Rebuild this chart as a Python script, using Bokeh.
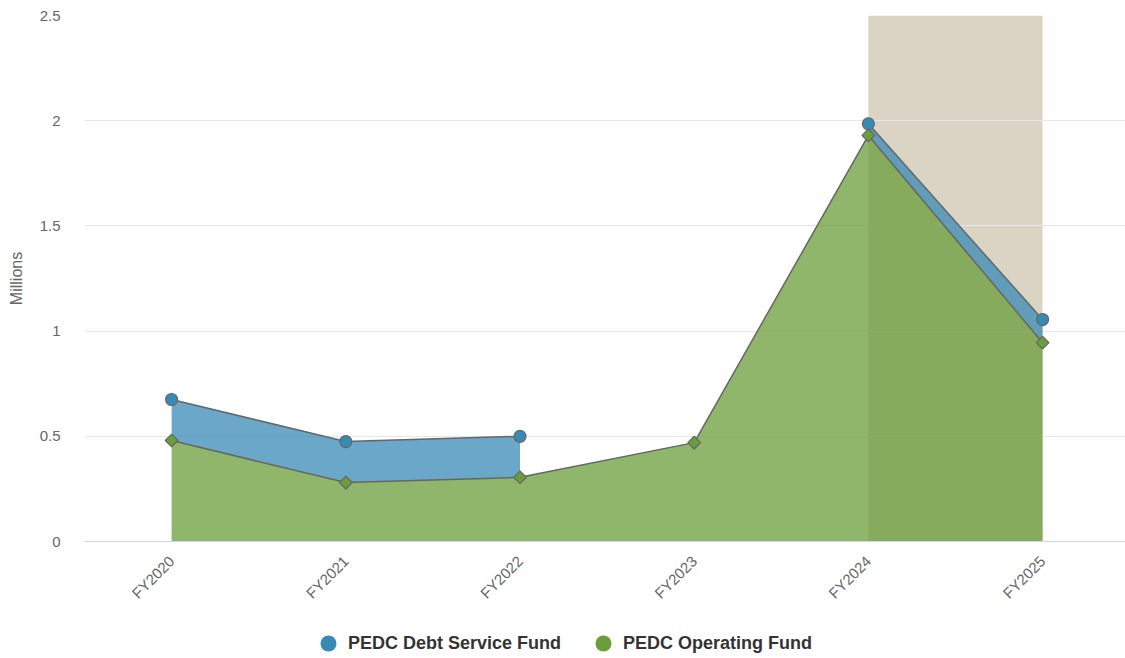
import math
from bokeh.plotting import figure
from bokeh.layouts import column
from bokeh.models import Range1d, FixedTicker, Legend, LegendItem, BoxAnnotation
from bokeh.embed import file_html
from bokeh.resources import INLINE

categories = ["FY2020", "FY2021", "FY2022", "FY2023", "FY2024", "FY2025"]
operating_fund = [0.48, 0.28, 0.305, 0.47, 1.93, 0.945]
debt_service_fund = [0.195, 0.195, 0.195, None, 0.055, 0.11]
band_start, band_end = "FY2024", "FY2025"
y_ticks = [0, 0.5, 1, 1.5, 2, 2.5]
series_names = ["PEDC Debt Service Fund", "PEDC Operating Fund"]

GREEN = "#6a9e3a"
BLUE = "#388ab6"
OUTLINE = "#666666"
FONT = "Liberation Sans"

xs = list(range(len(categories)))

p = figure(width=1125, height=618, output_backend="svg", toolbar_location=None,
           x_range=Range1d(-0.5, len(categories) - 0.524), y_range=Range1d(0, 2.5),
           min_border_left=84, min_border_right=0, min_border_top=15, min_border_bottom=77)
p.outline_line_color = None
p.background_fill_color = "white"

# band
band = BoxAnnotation(left=categories.index(band_start), right=categories.index(band_end),
                     fill_color="#d9d4c4", fill_alpha=1.0, line_alpha=0, level="image")
p.add_layout(band)

# grid
p.xgrid.grid_line_color = None
p.ygrid.grid_line_color = "#e6e6e6"
p.ygrid.grid_line_width = 1
p.ygrid.ticker = FixedTicker(ticks=y_ticks)

# green area
p.varea(x=xs, y1=[0] * len(xs), y2=operating_fund, fill_color=GREEN, fill_alpha=0.75)

# blue area segments (stacked on green)
segments = []
cur = []
for i, d in enumerate(debt_service_fund):
    if d is None:
        if cur:
            segments.append(cur)
        cur = []
    else:
        cur.append(i)
if cur:
    segments.append(cur)

for seg in segments:
    lo = [operating_fund[i] for i in seg]
    hi = [operating_fund[i] + debt_service_fund[i] for i in seg]
    p.varea(x=seg, y1=lo, y2=hi, fill_color=BLUE, fill_alpha=0.75)

# lines
p.line(x=xs, y=operating_fund, line_color=OUTLINE, line_width=1.5)
for seg in segments:
    hi = [operating_fund[i] + debt_service_fund[i] for i in seg]
    p.line(x=seg, y=hi, line_color=OUTLINE, line_width=1.5)

# markers
bx = [i for i in xs if debt_service_fund[i] is not None]
by = [operating_fund[i] + debt_service_fund[i] for i in bx]
p.scatter(x=bx, y=by, marker="circle", size=12, fill_color=BLUE, line_color=OUTLINE, line_width=1.2)
p.scatter(x=xs, y=operating_fund, marker="square", angle=math.pi / 4, size=9,
          fill_color=GREEN, line_color=OUTLINE, line_width=1.2)

# axes
p.xaxis.ticker = FixedTicker(ticks=xs)
p.xaxis.major_label_overrides = {i: c for i, c in enumerate(categories)}
p.xaxis.major_label_orientation = math.pi / 4
p.xaxis.axis_line_color = "#ccd6eb"
p.xaxis.major_tick_line_color = None
p.xaxis.minor_tick_line_color = None
p.xaxis.major_tick_out = 0
p.xaxis.major_tick_in = 0
p.xaxis.major_label_text_font = FONT
p.xaxis.major_label_text_font_size = "15px"
p.xaxis.major_label_text_color = "#666666"
p.xaxis.major_label_standoff = 17

p.yaxis.ticker = FixedTicker(ticks=y_ticks)
p.yaxis.major_label_overrides = {0: "0", 0.5: "0.5", 1: "1", 1.5: "1.5", 2: "2", 2.5: "2.5"}
p.yaxis.axis_line_color = None
p.yaxis.major_tick_line_color = None
p.yaxis.minor_tick_line_color = None
p.yaxis.major_tick_out = 0
p.yaxis.major_tick_in = 0
p.yaxis.major_label_text_font = FONT
p.yaxis.major_label_text_font_size = "15px"
p.yaxis.major_label_text_color = "#666666"
p.yaxis.major_label_standoff = 24
p.yaxis.axis_label = "Millions"
p.yaxis.axis_label_text_font = FONT
p.yaxis.axis_label_text_font_size = "16px"
p.yaxis.axis_label_text_font_style = "normal"
p.yaxis.axis_label_text_color = "#666666"
p.yaxis.axis_label_standoff = 12

# legend strip
lg = figure(width=1125, height=40, output_backend="svg", toolbar_location=None,
            x_range=Range1d(0, 1), y_range=Range1d(0, 1),
            min_border_left=0, min_border_right=0, min_border_top=0, min_border_bottom=0)
lg.axis.visible = False
lg.grid.visible = False
lg.outline_line_color = None
r_blue = lg.scatter(x=[-10], y=[-10], marker="circle", size=16, fill_color=BLUE, line_color=None)
r_green = lg.scatter(x=[-10], y=[-10], marker="circle", size=16, fill_color=GREEN, line_color=None)
legend = Legend(items=[LegendItem(label=series_names[0], renderers=[r_blue]),
                       LegendItem(label=series_names[1], renderers=[r_green])],
                orientation="horizontal", location=(224, -5),
                glyph_width=40, glyph_height=40, label_standoff=0, spacing=22,
                label_text_font=FONT, label_text_font_size="18px", label_text_font_style="bold",
                label_text_color="#333333", border_line_color=None, background_fill_alpha=0,
                padding=0, margin=0)
lg.add_layout(legend, "center")

layout = column(p, lg, spacing=0)
open("out.html", "w").write(file_html(layout, INLINE))
